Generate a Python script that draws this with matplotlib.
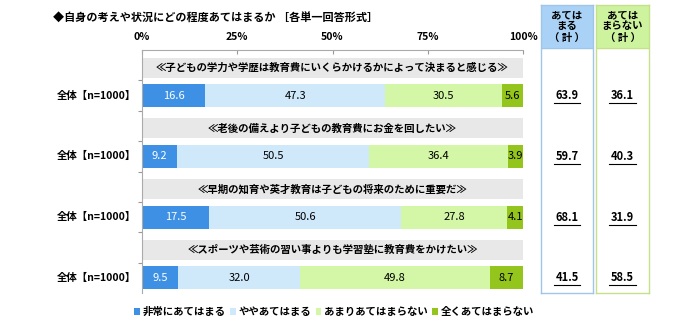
import matplotlib
matplotlib.use("Agg")
import matplotlib.pyplot as plt
import matplotlib.transforms as mtransforms
from matplotlib.patches import Rectangle, Patch
import numpy as np

plt.rcParams["font.family"] = ["Noto Sans CJK JP", "DejaVu Sans"]

# ── data ──
title = "◆自身の考えや状況にどの程度あてはまるか ［各単一回答形式］"
questions = [
    "≪子どもの学力や学歴は教育費にいくらかけるかによって決まると感じる≫",
    "≪老後の備えより子どもの教育費にお金を回したい≫",
    "≪早期の知育や英才教育は子どもの将来のために重要だ≫",
    "≪スポーツや芸術の習い事よりも学習塾に教育費をかけたい≫",
]
row_label = "全体【n=1000】"
series_names = ["非常にあてはまる", "ややあてはまる", "あまりあてはまらない", "全くあてはまらない"]
very = [16.6, 9.2, 17.5, 9.5]
some = [47.3, 50.5, 50.6, 32.0]
not_much = [30.5, 36.4, 27.8, 49.8]
not_at_all = [5.6, 3.9, 4.1, 8.7]
agree_total = [63.9, 59.7, 68.1, 41.5]
disagree_total = [36.1, 40.3, 31.9, 58.5]
xticks = [0, 25, 50, 75, 100]
box_headers = ["あては\nまる\n（ 計 ）", "あては\nまらない\n（ 計 ）"]

colors = ["#3d90e3", "#cfe8fa", "#d3f7a6", "#94c51d"]
label_colors = ["white", "black", "black", "black"]

W, H = 700, 330
fig = plt.figure(figsize=(W / 100, H / 100), dpi=100)


def fx(px):
    return px / W


def fy(px):
    return 1 - px / H


# main chart axes: 0% at x=142, 100% at x=523, y from 50 to 293 px
ax = fig.add_axes([fx(142), fy(293), fx(523 - 142), (293 - 50) / H])
ax.set_xlim(0, 100)
ax.set_ylim(8, 0)

n = len(questions)
bar_y = np.arange(n) * 2 + 1.5
band_y = np.arange(n) * 2 + 0.58

# gray question bands
ax.barh(band_y, 100, height=0.66, color="#e8e8e8", zorder=1)
for y, q in zip(band_y, questions):
    ax.text(50, y, q, ha="center", va="center", fontsize=7.5,
            fontweight="bold", zorder=3)

# stacked bars
data = [very, some, not_much, not_at_all]
left = np.zeros(n)
for k, vals in enumerate(data):
    vals = np.array(vals)
    ax.barh(bar_y, vals, left=left, height=0.76, color=colors[k], zorder=2)
    for y, l, v in zip(bar_y, left, vals):
        ax.text(l + v / 2, y, f"{v:.1f}", ha="center", va="center",
                fontsize=8, color=label_colors[k], zorder=3)
    left += vals

for y in bar_y:
    ax.text(-0.016, y, row_label, transform=mtransforms.blended_transform_factory(
        ax.transAxes, ax.transData), ha="right", va="center", fontsize=7.5,
        fontweight="bold")

# axes styling
ax.xaxis.tick_top()
ax.set_xticks(xticks)
ax.set_xticklabels([f"{t}%" for t in xticks], fontsize=7.5, fontweight="bold")
ax.tick_params(axis="x", direction="in", length=3, pad=6, color="#999999")
ax.set_yticks(np.arange(1, 8))
ax.set_yticklabels([])
ax.tick_params(axis="y", direction="out", length=3, color="#999999")
for s in ["right", "bottom"]:
    ax.spines[s].set_visible(False)
for s in ["top", "left"]:
    ax.spines[s].set_color("#aaaaaa")
    ax.spines[s].set_linewidth(0.8)

# title
fig.text(fx(53), fy(18), title, ha="left", va="center", fontsize=8,
         fontweight="bold")

# right summary boxes
box_specs = [
    (541, 593, "#9fc5e8", "#a9d2f6", agree_total),
    (596, 649, "#c5df8a", "#cdf39f", disagree_total),
]
for (x0, x1, edge, fill, vals), header in zip(box_specs, box_headers):
    bax = fig.add_axes([fx(x0), fy(293), fx(x1 - x0), (293 - 5) / H])
    bax.set_xlim(0, 1)
    bax.set_ylim(0, 1)
    bax.set_xticks([])
    bax.set_yticks([])
    for s in bax.spines.values():
        s.set_color(edge)
        s.set_linewidth(1.0)
    hy = (293 - 48) / (293 - 5)
    bax.add_patch(Rectangle((0, hy), 1, 1 - hy, color=fill, zorder=0))
    bax.plot([0, 1], [hy, hy], color=edge, lw=0.8)
    bax.text(0.5, (1 + hy) / 2, header, ha="center", va="center",
             fontsize=7.5, fontweight="bold", linespacing=1.15)
    tr = mtransforms.blended_transform_factory(bax.transAxes, ax.transData)
    for y, v in zip(bar_y, vals):
        bax.text(0.5, y, f"{v:.1f}", transform=tr, ha="center", va="center",
                 fontsize=8, fontweight="bold")
        bax.plot([0.25, 0.75], [y + 0.25, y + 0.25], transform=tr,
                 color="black", lw=0.8, clip_on=False)

# legend
handles = [Patch(facecolor=c, edgecolor="none") for c in colors]
fig.legend(handles, series_names, loc="center", bbox_to_anchor=(fx(334), fy(312)),
           ncol=4, frameon=False, handlelength=0.55,
           handleheight=0.55, handletextpad=0.25, columnspacing=0.45,
           prop={"weight": "bold", "size": 7.5})

fig.savefig("out.png", dpi=100)
